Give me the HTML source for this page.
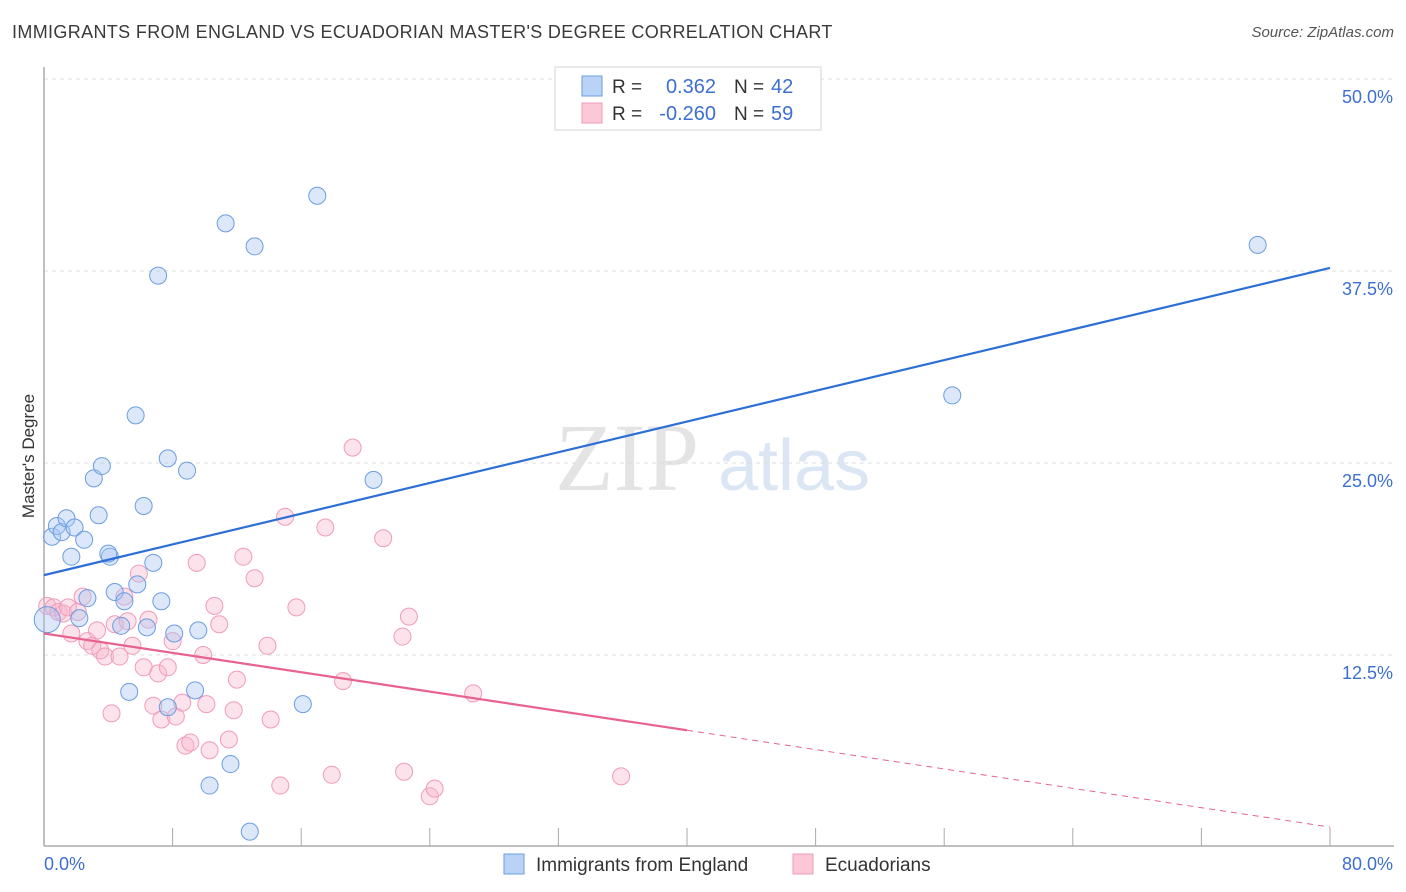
<!DOCTYPE html>
<html><head><meta charset="utf-8">
<style>
body{margin:0;background:#fff;font-family:"Liberation Sans",sans-serif;}
#wrap{position:relative;width:1406px;height:892px;overflow:hidden;}
.title{position:absolute;left:12px;top:22px;font-size:18px;color:#3a3a3a;letter-spacing:0.35px;}
.source{position:absolute;right:12px;top:24px;font-size:15px;color:#555;font-style:italic;}
</style></head><body>
<div id="wrap">
<div class="title">IMMIGRANTS FROM ENGLAND VS ECUADORIAN MASTER'S DEGREE CORRELATION CHART</div>
<div class="source">Source: ZipAtlas.com</div>
<svg id="svg" width="1406" height="892" style="position:absolute;left:0;top:0"></svg>
</div>
<script>
const xTicks=[0,8,16,24,32,40,48,56,64,72,80];
const yTicks=[12.5,25,37.5,50];
const yTickLabels=["12.5%","25.0%","37.5%","50.0%"];
const blueX=[0.5,0.8,1.1,1.4,1.9,1.7,2.5,3.4,3.1,3.6,4.1,4.0,2.7,2.2,0.2,4.4,5.0,4.8,5.8,6.2,5.7,6.8,7.1,7.3,6.4,7.7,8.1,8.9,9.6,5.3,9.4,7.7,10.3,11.6,12.8,16.1,20.5,11.3,13.1,17.0,56.5,75.5];
const blueY=[20.2,20.9,20.5,21.4,20.8,18.9,20.0,21.6,24.0,24.8,18.9,19.1,16.2,14.9,14.8,16.6,16.0,14.4,17.1,22.2,28.1,18.5,37.2,16.0,14.3,25.3,13.9,24.5,14.1,10.1,10.2,9.1,4.0,5.4,1.0,9.3,23.9,40.6,39.1,42.4,29.4,39.2];
const pinkX=[0.2,0.6,0.9,1.2,1.5,1.7,2.1,2.4,2.7,3.0,3.3,3.5,3.8,4.2,4.4,4.7,5.0,5.2,5.5,5.9,6.2,6.5,6.8,7.1,7.3,7.7,8.0,8.2,8.6,8.8,9.1,9.5,9.9,10.1,10.3,10.6,10.9,11.5,11.8,12.0,12.4,13.1,13.9,14.1,14.7,15.0,15.7,17.5,17.9,18.6,19.2,21.1,22.3,22.4,22.7,24.0,24.3,26.7,35.9];
const pinkY=[15.7,15.6,15.3,15.2,15.6,13.9,15.3,16.3,13.4,13.1,14.1,12.8,12.4,8.7,14.5,12.4,16.3,14.7,13.1,17.8,11.7,14.8,9.2,11.3,8.3,11.7,13.4,8.5,9.4,6.6,6.8,18.5,12.5,9.3,6.3,15.7,14.5,7.0,8.9,10.9,18.9,17.5,13.1,8.3,4.0,21.5,15.6,20.8,4.7,10.8,26.0,20.1,13.7,4.9,15.0,3.3,3.8,10.0,4.6];
const blueLine=[17.7,37.7];
const pinkLine=[13.9,1.3];
const pinkSolidEnd=40;

const X0=44,X1=1330,Y0=847,PXY=15.36;
function sx(v){return X0+(X1-X0)*v/80;}
function sy(v){return Y0-v*PXY;}
const svg=document.getElementById('svg');
const NS="http://www.w3.org/2000/svg";
function mk(tag,attrs,parent){const e=document.createElementNS(NS,tag);for(const k in attrs)e.setAttribute(k,attrs[k]);(parent||svg).appendChild(e);return e;}

let wm=mk('text',{x:555,y:490,'font-size':96,'font-family':'Liberation Serif, serif',fill:'#e4e4e4'});wm.textContent='ZIP';


let wm2=mk('text',{x:718,y:490,'font-size':72,'font-family':'Liberation Sans, sans-serif',fill:'#dbe6f5'});wm2.textContent='atlas';



yTicks.forEach((t,i)=>{
 const g=mk('line',{x1:X0,x2:1394,y1:sy(t),y2:sy(t),stroke:'#dcdcdc','stroke-dasharray':'4,4','stroke-width':1});
 
 
 const l=mk('text',{x:1393,y:sy(t)+24,'text-anchor':'end','font-size':18,fill:'#3d6fd0'});
 l.textContent=yTickLabels[i];
 
 
});
let ya=mk('line',{x1:X0,x2:X0,y1:67,y2:846,stroke:'#aaa','stroke-width':1.5});


let xa=mk('line',{x1:X0,x2:1394,y1:846,y2:846,stroke:'#aaa','stroke-width':1.5});


xTicks.forEach(t=>{
 const tk=mk('line',{x1:sx(t),x2:sx(t),y1:828,y2:846,stroke:'#aaa','stroke-width':1});
 
 
});
let xl0=mk('text',{x:44,y:870,'font-size':18,fill:'#3d6fd0'});xl0.textContent='0.0%';


let xl1=mk('text',{x:1393,y:870,'font-size':18,fill:'#3d6fd0','text-anchor':'end'});xl1.textContent='80.0%';


let yt=mk('text',{x:34,y:456,'font-size':17,fill:'#333','text-anchor':'middle',transform:'rotate(-90 34 456)'});yt.textContent="Master's Degree";



pinkX.forEach((x,i)=>{
 const c=mk('circle',{cx:sx(x),cy:sy(pinkY[i]),r:8.5,fill:'rgba(248,182,204,0.4)',stroke:'#f19bb9','stroke-width':1});
 
 
});
blueX.forEach((x,i)=>{
 const c=mk('circle',{cx:sx(x),cy:sy(blueY[i]),r:(x<0.3?13:8.5),fill:'rgba(168,198,242,0.4)',stroke:'#6b9de0','stroke-width':1});
 
 
});
let bl=mk('line',{x1:sx(0),y1:sy(blueLine[0]),x2:sx(80),y2:sy(blueLine[1]),stroke:'#2d6fd6','stroke-width':2.2});


const pm=pinkLine[0]+(pinkLine[1]-pinkLine[0])*pinkSolidEnd/80;
let pl=mk('line',{x1:sx(0),y1:sy(pinkLine[0]),x2:sx(pinkSolidEnd),y2:sy(pm),stroke:'#e8628f','stroke-width':2.2});


let pd=mk('line',{x1:sx(pinkSolidEnd),y1:sy(pm),x2:sx(80),y2:sy(pinkLine[1]),stroke:'#e8628f','stroke-width':1,'stroke-dasharray':'6,5'});



let lb=mk('rect',{x:555,y:67,width:266,height:63,fill:'#fff',stroke:'#d6d6d6'});


function row(y,fill,stroke,r,n,nm){
 const s=mk('rect',{x:582,y:y-10,width:20,height:20,fill:fill,stroke:stroke});
 
 
 const t1=mk('text',{x:612,y:y+7,'font-size':19,fill:'#333'});t1.textContent='R =';
 
 
 const t2=mk('text',{x:716,y:y+7,'font-size':20,fill:'#3d6fd0','text-anchor':'end'});t2.textContent=r;
 
 
 const t3=mk('text',{x:734,y:y+7,'font-size':19,fill:'#333'});t3.textContent='N =';
 
 
 const t4=mk('text',{x:771,y:y+7,'font-size':20,fill:'#3d6fd0'});t4.textContent=n;
 
 
}
row(86,'#b9d3f7','#6b9de0','0.362','42','england');
row(113,'#fcc8d8','#f19bb9','-0.260','59','ecuadorian');

function bleg(x,fill,stroke,label,nm){
 const s=mk('rect',{x:x,y:854,width:20,height:20,fill:fill,stroke:stroke});
 
 
 const t=mk('text',{x:x+32,y:871,'font-size':19,fill:'#333'});t.textContent=label;
 
 
}
bleg(504,'#b9d3f7','#6b9de0','Immigrants from England','england');
bleg(793,'#fcc8d8','#f19bb9','Ecuadorians','ecuadorian');
</script>
</body></html>
